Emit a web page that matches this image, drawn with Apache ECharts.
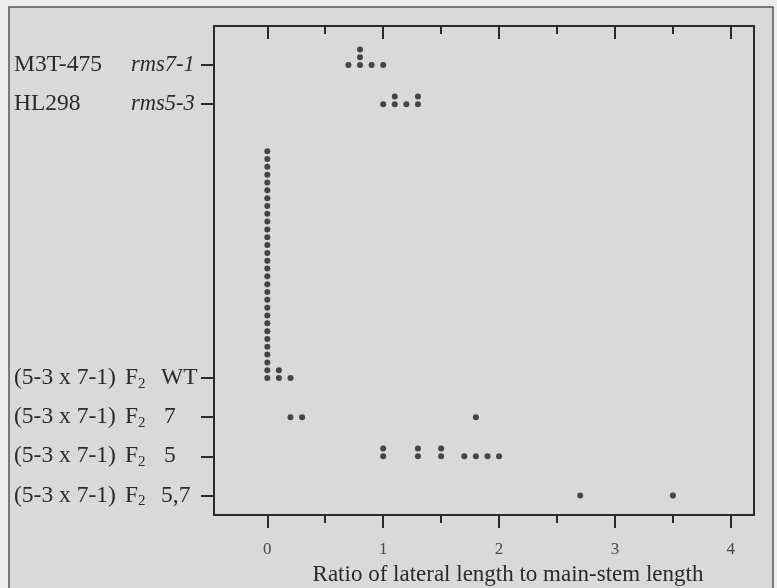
<!DOCTYPE html>
<html>
<head>
<meta charset="utf-8">
<script src="https://cdn.jsdelivr.net/npm/echarts@6/dist/echarts.min.js"></script>
<style>
  html, body { margin: 0; padding: 0; background: #ececec; }
  #main { width: 777px; height: 588px; }
</style>
</head>
<body>
<div id="main"></div>
<script>
// row positions on the vertical scale (bottom to top)
var rowPos = [0, 1, 2, 3, 10, 11];

// label pieces for each row
var rowLabels = {
    0: '{a|(5-3 x 7-1)}{f|F}{s|2}{c|5,7}',
    1: '{a|(5-3 x 7-1)}{f|F}{s|2}{d|5}',
    2: '{a|(5-3 x 7-1)}{f|F}{s|2}{d|7}',
    3: '{a|(5-3 x 7-1)}{f|F}{s|2}{c|WT}',
    10: '{b|HL298}{i|rms5-3}',
    11: '{b|M3T-475}{i|rms7-1}'
};

// ratio of lateral length to main-stem length, one value per plant
var f2_57 = [2.7, 3.5];
var f2_5 = [1.0, 1.0, 1.3, 1.3, 1.5, 1.5, 1.7, 1.8, 1.9, 2.0];
var f2_7 = [0.2, 0.3, 1.8];
var f2_wt = [0, 0, 0, 0, 0, 0, 0, 0, 0, 0,
             0, 0, 0, 0, 0, 0, 0, 0, 0, 0,
             0, 0, 0, 0, 0, 0, 0, 0, 0, 0,
             0.1, 0.1, 0.2];
var hl298 = [1.0, 1.1, 1.1, 1.2, 1.3, 1.3];
var m3t475 = [0.7, 0.8, 0.8, 0.8, 0.9, 1.0];

var xMajor = [0, 1, 2, 3, 4];
var xMinor = [0.5, 1.5, 2.5, 3.5];

var rows = [f2_57, f2_5, f2_7, f2_wt, hl298, m3t475];

// stack repeated values upwards like a dot plot
var dotStep = 0.2;
function stackDots(values, base) {
    var seen = {};
    return values.map(function (v) {
        var k = seen[v] || 0;
        seen[v] = k + 1;
        return [v, base + k * dotStep];
    });
}

var dots = [];
rows.forEach(function (vals, i) {
    dots = dots.concat(stackDots(vals, rowPos[i]));
});

var serif = "'Liberation Serif', 'Times New Roman', serif";
var ink = '#2b2b2b';
var xMin = -0.46, xMax = 4.2;

function xAxisPart(pos, ticks, len, inside, labels) {
    return {
        type: 'value', position: pos, min: xMin, max: xMax,
        axisLine: { show: false, onZero: false },
        splitLine: { show: false },
        axisTick: {
            show: true, inside: inside, length: len, customValues: ticks,
            lineStyle: { color: ink, width: 2 }
        },
        axisLabel: labels ? {
            show: true, customValues: xMajor, margin: 26,
            fontFamily: serif, fontSize: 17, color: '#4a4a4a'
        } : { show: false }
    };
}

var xAxes = [
    xAxisPart('bottom', xMajor, 13, false, true),
    xAxisPart('bottom', xMinor, 8, false, false),
    xAxisPart('top', xMajor, 13, true, false),
    xAxisPart('top', xMinor, 8, true, false)
];
xAxes[0].name = 'Ratio of lateral length to main-stem length';
xAxes[0].nameLocation = 'middle';
xAxes[0].nameGap = 48;
xAxes[0].nameTextStyle = { fontFamily: serif, fontSize: 23, color: ink, padding: [0, 0, 0, 48] };

var labFont = 23.5;

var chart = echarts.init(document.getElementById('main'));
chart.setOption({
    backgroundColor: 'transparent',
    animation: false,
    graphic: [{
        type: 'rect', z: -10, silent: true,
        shape: { x: 9, y: 7, width: 764, height: 620 },
        style: { fill: '#d9d9d9', stroke: '#555', lineWidth: 1.5 }
    }],
    grid: {
        left: 214, right: 23, top: 26, bottom: 73,
        outerBoundsMode: 'none',
        show: true, borderColor: ink, borderWidth: 2,
        backgroundColor: 'transparent'
    },
    xAxis: xAxes,
    yAxis: {
        type: 'value', min: -0.5, max: 12,
        axisLine: { show: false, onZero: false },
        splitLine: { show: false },
        axisTick: {
            show: true, length: 13, customValues: rowPos,
            lineStyle: { color: ink, width: 2 }
        },
        axisLabel: {
            show: true, customValues: rowPos, margin: 200, align: 'left',
            formatter: function (v) { return rowLabels[v] || ''; },
            rich: {
                a: { fontFamily: serif, fontSize: labFont, color: ink, width: 111, lineHeight: 26 },
                b: { fontFamily: serif, fontSize: labFont, color: ink, width: 117, lineHeight: 26 },
                f: { fontFamily: serif, fontSize: labFont, color: ink, lineHeight: 26 },
                s: { fontFamily: serif, fontSize: 15, color: ink, lineHeight: 13, verticalAlign: 'bottom', width: 23 },
                c: { fontFamily: serif, fontSize: labFont, color: ink, lineHeight: 26 },
                d: { fontFamily: serif, fontSize: labFont, color: ink, lineHeight: 26, padding: [0, 0, 0, 3] },
                i: { fontFamily: serif, fontSize: 22.5, fontStyle: 'italic', color: ink, lineHeight: 26 }
            }
        }
    },
    series: [{
        type: 'scatter',
        xAxisIndex: 0,
        symbol: 'circle',
        symbolSize: 6,
        itemStyle: { color: '#1f1f1f' },
        data: dots
    }]
});
</script>
</body>
</html>
